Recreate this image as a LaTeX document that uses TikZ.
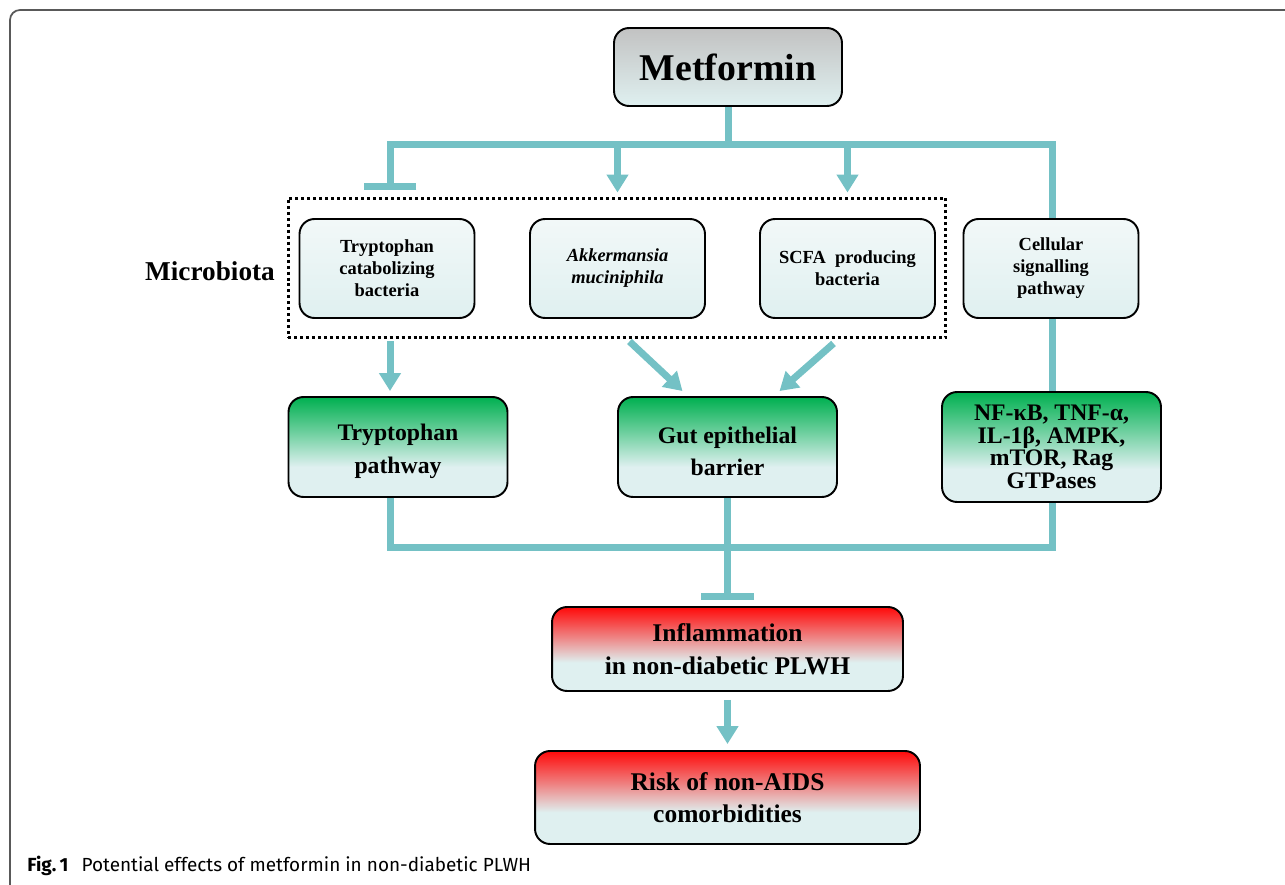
\documentclass[tikz,border=0pt]{standalone}
\usepackage{fontspec}
\setmainfont{Liberation Serif}[BoldItalicFont={Liberation Serif Bold Italic}]
\newfontfamily\capfont{Fira Sans}
\usetikzlibrary{arrows.meta,calc}
\definecolor{linkteal}{HTML}{74C1C5}
\definecolor{boxpale}{HTML}{DFF0F0}
\definecolor{paletop}{HTML}{F2F8F8}
\definecolor{boxgray}{HTML}{C2C2C2}
\definecolor{boxgreen}{HTML}{00B050}
\definecolor{boxred}{HTML}{FF0A0A}
\colorlet{greenmid}{boxgreen!50!boxpale}
\colorlet{redmid}{boxred!50!boxpale}
\pgfdeclareverticalshading{greenfade}{100bp}{color(0bp)=(boxpale); color(25bp)=(boxpale); color(40bp)=(boxpale); color(57bp)=(greenmid); color(75bp)=(boxgreen); color(100bp)=(boxgreen)}
\pgfdeclareverticalshading{redfade}{100bp}{color(0bp)=(boxpale); color(25bp)=(boxpale); color(42bp)=(boxpale); color(58bp)=(redmid); color(75bp)=(boxred); color(100bp)=(boxred)}

\begin{document}
\begin{tikzpicture}[x=0.02cm,y=-0.02cm,
  box/.style={draw=black,line width=1.1pt,rounded corners=0.3cm,align=center,inner sep=2pt},
  bacbox/.style={box,top color=paletop,bottom color=boxpale,minimum width=3.5cm,minimum height=1.98cm,font=\fontsize{10.5}{12.5}\selectfont\bfseries},
  greenbox/.style={box,shading=greenfade,minimum width=4.38cm,minimum height=2cm,font=\fontsize{13.5}{18.5}\selectfont\bfseries},
  redbox/.style={box,shading=redfade,font=\fontsize{14.5}{18.5}\selectfont\bfseries},
  link/.style={draw=linkteal,line width=0.14cm},
  arr/.style={link,-{Triangle[width=0.42cm,length=0.36cm]}},
  inhib/.style={link,-{Bar[width=1.06cm]}}
  ]
\useasboundingbox (0,0) rectangle (1285,885);
% frame and caption
\draw[black!65,line width=1pt,rounded corners=0.2cm] (10,885) -- (10,10) -- (1285,10);
\node[anchor=west,font=\capfont\fontsize{10.8}{12}\selectfont,inner sep=0pt] (cap) at (27,866)
  {\textbf{Fig.\,1}\hspace{0.7em}Potential effects of metformin in non-diabetic PLWH};

% nodes
\node[box,top color=boxgray,bottom color=boxpale,minimum width=4.56cm,minimum height=1.56cm,
  font=\fontsize{21.5}{24}\selectfont\bfseries] (met) at (728,67) {Metformin};
\node[draw=black,line width=1.7pt,dash pattern=on 1.7pt off 1.7pt,minimum width=13.16cm,minimum height=2.8cm] (micro) at (617,268) {};
\node[font=\fontsize{15.5}{18}\selectfont\bfseries] (mlabel) at (210,271) {Microbiota};
\node[bacbox] (trybac) at (387,268.5) {Tryptophan\\catabolizing\\bacteria};
\node[bacbox,font=\fontsize{10.5}{12.5}\selectfont\bfseries\itshape] (akk) at (617.5,268.5) {Akkermansia\\muciniphila};
\node[bacbox] (scfa) at (847.5,268.5) {SCFA~~producing\\bacteria};
\node[bacbox] (cell) at (1051,268.5) {Cellular\\signalling\\pathway};
\node[greenbox] (trpath) at (398,447) {\rule{0pt}{14.5pt}Tryptophan\\pathway};
\node[greenbox] (gut) at (727.5,447) {\rule{0pt}{14.5pt}Gut epithelial\\barrier};
\node[greenbox,minimum height=2.2cm,font=\fontsize{13.5}{12.8}\selectfont\bfseries] (nfkb) at (1051.5,447)
  {NF-κB, TNF-α,\\IL-1β, AMPK,\\mTOR, Rag\\GTPases};
\node[redbox,minimum width=7.02cm,minimum height=1.68cm] (inflam) at (727.5,649) {Inflammation\\in non-diabetic PLWH};
\node[redbox,minimum width=7.7cm,minimum height=1.86cm] (risk) at (727.5,797.5) {Risk of non-AIDS\\comorbidities};

% rails
\coordinate (tl) at (390,145);
\coordinate (tr) at (1052,145);
\coordinate (bl) at (390,547);
\coordinate (br) at (1052,547);

% connectors
\draw[inhib,shorten >=0.14cm] (met.south) -- (met.south |- tl) -- (tl) -- (tl |- micro.north);
\draw[link] (met.south |- tl) -- (tr) -- (cell.north -| tr);
\draw[arr,shorten >=0.08cm] (akk |- tl) -- (akk |- micro.north);
\draw[arr,shorten >=0.08cm] (scfa |- tl) -- (scfa |- micro.north);
\draw[link] (cell.south -| tr) -- (nfkb.north -| tr);
\draw[arr,shorten <=0.04cm,shorten >=0.1cm] (tl |- micro.south) -- (tl |- trpath.north);
\draw[arr] ($(micro.south -| akk)+(12,2)$) -- ($(gut.north)+(-45,-5)$);
\draw[arr] ($(micro.south -| scfa)+(-14,4)$) -- ($(gut.north)+(52,-5)$);
\draw[link] (trpath.south -| bl) -- (bl) -- (br) -- (nfkb.south -| br);
\draw[inhib,shorten >=0.12cm] (gut.south) -- (inflam.north);
\draw[arr,shorten <=0.16cm,shorten >=0.12cm] (inflam.south) -- (risk.north);
\end{tikzpicture}
\end{document}
